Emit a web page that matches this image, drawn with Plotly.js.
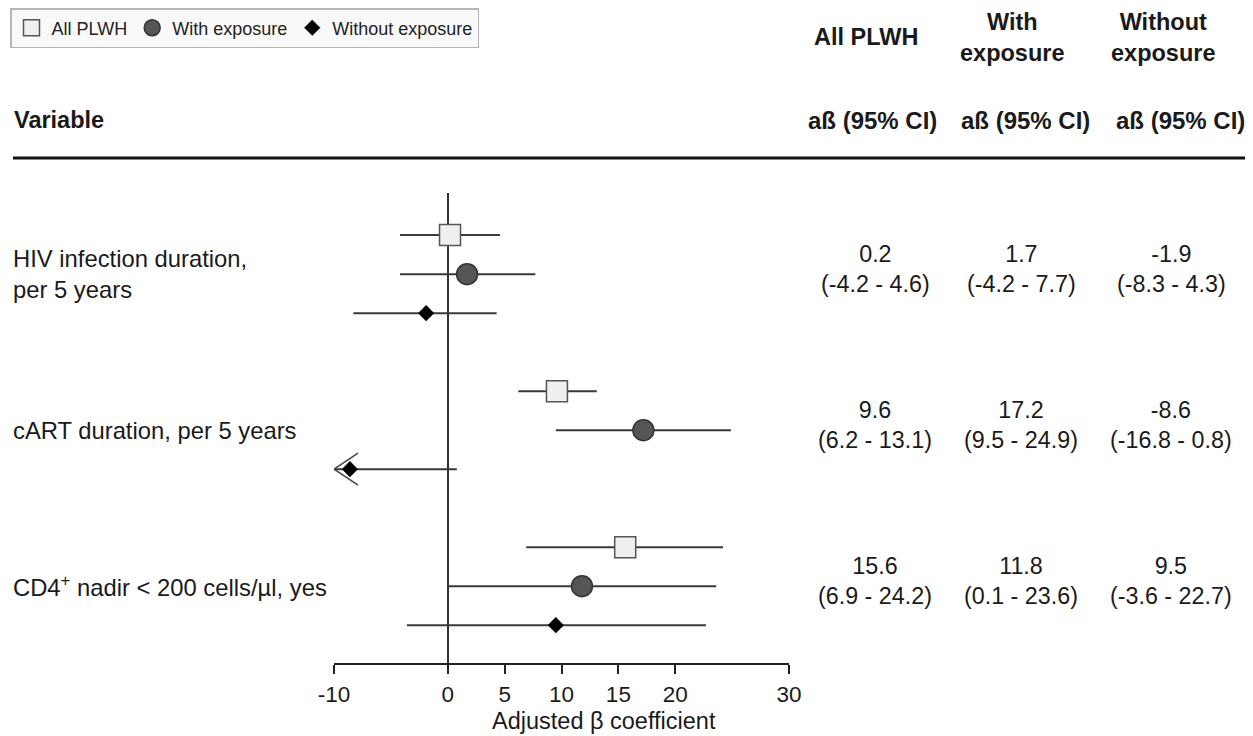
<!DOCTYPE html>
<html>
<head>
<meta charset="utf-8">
<script src="https://cdn.plot.ly/plotly-3.0.1.min.js"></script>
<style>html,body{margin:0;padding:0;background:#fff;}#chart{width:1253px;height:736px;}</style>
</head>
<body>
<div id="chart"></div>
<script>
// ---- data ----
const variables = ['HIV infection duration,<br>per 5 years', 'cART duration, per 5 years', 'CD4<sup>+</sup> nadir &lt; 200 cells/µl, yes'];
const seriesNames = ['All PLWH', 'With exposure', 'Without exposure'];
const allEst = [0.2, 9.6, 15.6];
const allLo  = [-4.2, 6.2, 6.9];
const allHi  = [4.6, 13.1, 24.2];
const withEst = [1.7, 17.2, 11.8];
const withLo  = [-4.2, 9.5, 0.1];
const withHi  = [7.7, 24.9, 23.6];
const woEst = [-1.9, -8.6, 9.5];
const woLo  = [-8.3, -16.8, -3.6];
const woHi  = [4.3, 0.8, 22.7];
const tickVals = [-10, 0, 5, 10, 15, 20, 30];
const colHeaders = ['All PLWH', 'With<br>exposure', 'Without<br>exposure'];
const colSub = 'aß (95% CI)';

// ---- layout helpers ----
const W = 1253, H = 736;
const FONT = '"Liberation Sans", Arial, Helvetica, sans-serif';
const px = v => v / W;
const py = v => 1 - v / H;
const xMin = -10, xMax = 30;
const fmt = v => v.toFixed(1);
const TXT = '#1a1a1a';

const series = [
  {est: allEst, lo: allLo, hi: allHi, off: 0,
   marker: {symbol: 'square', size: 21, color: '#efefef', line: {color: '#555', width: 1.5}}},
  {est: withEst, lo: withLo, hi: withHi, off: 1,
   marker: {symbol: 'circle', size: 21, color: '#555555', line: {color: '#333', width: 1.5}}},
  {est: woEst, lo: woLo, hi: woHi, off: 2,
   marker: {symbol: 'diamond', size: 12, color: '#000', line: {color: '#000', width: 0.5}}}
];

const traces = series.map((s, k) => ({
  type: 'scatter', mode: 'markers', name: seriesNames[k],
  x: s.est,
  y: s.est.map((_, i) => i * 4 + s.off),
  error_x: {type: 'data', symmetric: false,
    array: s.hi.map((h, i) => h - s.est[i]),
    arrayminus: s.lo.map((l, i) => s.est[i] - l),
    width: 0, thickness: 2, color: '#3a3a3a'},
  marker: s.marker,
  hoverinfo: 'x'
}));

const shapes = [
  {type: 'line', xref: 'paper', yref: 'paper', x0: px(13), x1: px(1245), y0: py(158), y1: py(158),
   line: {color: '#111', width: 3}}
];
// arrows for CIs extending beyond the axis minimum
series.forEach(s => s.lo.forEach((l, i) => {
  if (l < xMin) {
    [16, -16].forEach(dy => shapes.push({
      type: 'line', xref: 'x', yref: 'y', xsizemode: 'pixel', ysizemode: 'pixel',
      xanchor: xMin, yanchor: i * 4 + s.off, x0: 0, y0: 0, x1: 24, y1: dy,
      line: {color: '#444', width: 1.5}
    }));
  }
}));

const annotations = [];
const txt = (text, x, y, size, opts) => Object.assign({
  text, x, y, xref: 'paper', yref: 'paper', showarrow: false,
  font: {family: FONT, size: size, color: TXT}
}, opts || {});

annotations.push(txt('<b>Variable</b>', px(12), py(120), 23.5, {xanchor: 'left', yanchor: 'middle'}));
const headX = [866, 1012, 1163];
colHeaders.forEach((h, k) => annotations.push(txt('<b>' + h + '</b>', px(headX[k]), py(37), 23.5, {xanchor: 'center', yanchor: 'middle'})));
const subX = [872, 1025, 1180];
subX.forEach(x => annotations.push(txt('<b>' + colSub + '</b>', px(x), py(121), 24, {xanchor: 'center', yanchor: 'middle'})));

// variable labels
variables.forEach((v, i) => annotations.push({
  text: v, xref: 'paper', yref: 'y', x: px(11), y: i * 4 + 1, xanchor: 'left', yanchor: 'middle',
  align: 'left', showarrow: false, font: {family: FONT, size: 23.8, color: TXT}
}));
// values table
const valX = [875, 1021, 1171];
series.forEach((s, k) => s.est.forEach((e, i) => annotations.push({
  text: fmt(e) + '<br>(' + fmt(s.lo[i]) + ' - ' + fmt(s.hi[i]) + ')',
  xref: 'paper', yref: 'y', x: px(valX[k]), y: i * 4 + 1, yshift: 5,
  xanchor: 'center', yanchor: 'middle', align: 'center', showarrow: false,
  font: {family: FONT, size: 23.3, color: TXT}
})));
// axis title
annotations.push(txt('Adjusted β coefficient', px(604), py(721), 23.5, {xanchor: 'center', yanchor: 'middle'}));

const layout = {
  width: W, height: H,
  margin: {l: 0, r: 0, t: 0, b: 0},
  paper_bgcolor: '#fff', plot_bgcolor: 'rgba(0,0,0,0)',
  font: {family: FONT, color: TXT},
  showlegend: true,
  legend: {orientation: 'h', x: px(10), y: py(8), xanchor: 'left', yanchor: 'top',
    bgcolor: '#f9f9f9', bordercolor: '#b5b5b5', borderwidth: 1.5,
    font: {family: FONT, size: 18, color: '#222'}, itemsizing: 'trace'},
  xaxis: {
    domain: [px(334), px(789)], range: [xMin, xMax], fixedrange: true,
    tickmode: 'array', tickvals: tickVals, ticktext: tickVals.map(String),
    ticks: 'outside', ticklen: 9, tickwidth: 2, tickcolor: '#222',
    showline: true, linecolor: '#222', linewidth: 2,
    showgrid: false, zeroline: true, zerolinecolor: '#333', zerolinewidth: 2,
    tickfont: {family: FONT, size: 22.5, color: TXT}, ticklabelstandoff: 1
  },
  yaxis: {
    domain: [1 - 663 / H, 1 - 193 / H], range: [10.97, -1.08], visible: false,
    showgrid: false, zeroline: false, fixedrange: true
  },
  shapes, annotations
};

Plotly.newPlot('chart', traces, layout, {displayModeBar: false, staticPlot: true});
</script>
</body>
</html>
